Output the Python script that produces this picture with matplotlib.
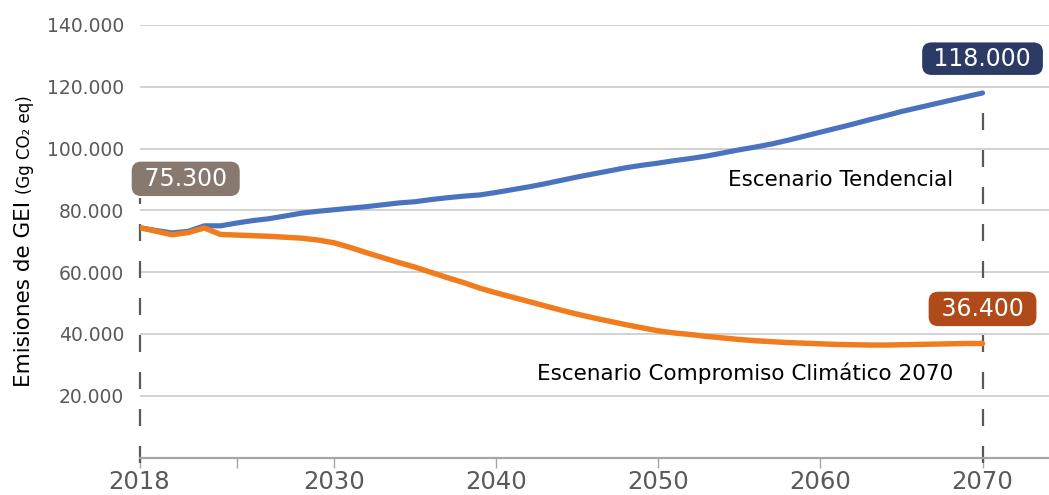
import matplotlib
matplotlib.use("Agg")
import matplotlib.pyplot as plt

years = list(range(2018, 2071))

tendencial = [
    74400, 73500, 72700, 73200, 75000, 75000, 75900, 76700, 77300, 78200,
    79100, 79700, 80200, 80700, 81200, 81800, 82400, 82800, 83500, 84100,
    84600, 85000, 85800, 86700, 87600, 88600, 89700, 90800, 91800, 92800,
    93800, 94600, 95300, 96100, 96800, 97600, 98600, 99600, 100500, 101500,
    102700, 104000, 105300, 106600, 107900, 109300, 110600, 112000, 113200,
    114400, 115600, 116800, 118000,
]

compromiso = [
    74400, 73300, 72100, 72800, 74300, 72200, 72000, 71800, 71600, 71300,
    71000, 70400, 69500, 68000, 66300, 64700, 63100, 61600, 59900, 58200,
    56600, 54800, 53300, 51900, 50500, 49100, 47700, 46400, 45200, 44100,
    43000, 42000, 41000, 40300, 39800, 39200, 38700, 38200, 37800, 37500,
    37200, 37000, 36800, 36600, 36500, 36400, 36400, 36500, 36600, 36700,
    36800, 36900, 36900,
]

yticks = [20000, 40000, 60000, 80000, 100000, 120000, 140000]
ytick_labels = ["20.000", "40.000", "60.000", "80.000", "100.000", "120.000", "140.000"]
xticks = [2018, 2030, 2040, 2050, 2060, 2070]
xtick_labels = ["2018", "2030", "2040", "2050", "2060", "2070"]

BLUE = "#4A73BF"
ORANGE = "#F07C1E"
GRAY_TXT = "#595959"

plt.rcParams["font.family"] = ["DejaVu Sans"]

fig = plt.figure(figsize=(10.49, 4.95), dpi=100)
ax = fig.add_axes([139.5 / 1049, 1 - 457.5 / 495, 1 - 139.5 / 1049, 432.5 / 495])
ax.set_xlim(2018, 2074.1)
ax.set_ylim(0, 140000)

for s in ["top", "right", "left"]:
    ax.spines[s].set_visible(False)
ax.spines["bottom"].set_color("#A6A6A6")
ax.spines["bottom"].set_linewidth(1.6)

ax.set_yticks(yticks)
ax.set_yticklabels(ytick_labels)
ax.tick_params(axis="y", length=0, pad=11, labelsize=13.5, labelcolor=GRAY_TXT)
ax.yaxis.grid(True, color="#C6C6C6", linewidth=1.1)
ax.set_axisbelow(True)

ax.set_xticks(xticks)
ax.set_xticklabels(xtick_labels)
ax.set_xticks([2024], minor=True)
ax.tick_params(axis="x", which="both", length=7, width=1, color="#A6A6A6",
               pad=2, labelsize=17.5, labelcolor=GRAY_TXT)

# dashed markers at start / end years
dash_kw = dict(color=GRAY_TXT, linewidth=1.6, clip_on=False, zorder=2)
l1, = ax.plot([2018, 2018], [-1800, 84000], **dash_kw)
l2, = ax.plot([2070, 2070], [-1800, 111600], **dash_kw)
for l in (l1, l2):
    l.set_dashes((17 * 0.72 / 1.6, 20 * 0.72 / 1.6))

ax.plot(years, tendencial, color=BLUE, linewidth=3.7, solid_capstyle="round",
        solid_joinstyle="round", zorder=3)
ax.plot(years, compromiso, color=ORANGE, linewidth=3.9, solid_capstyle="round",
        solid_joinstyle="round", zorder=4)

box_kw = dict(ha="center", va="center", fontsize=17, color="white", zorder=6)
ax.text(2020.85, 90200, " 75.300 ", bbox=dict(boxstyle="round,pad=0.22,rounding_size=0.4",
        fc="#877870", ec="none"), **box_kw)
ax.text(2070, 129100, " 118.000 ", bbox=dict(boxstyle="round,pad=0.18,rounding_size=0.4",
        fc="#2C3A66", ec="none"), **box_kw)
ax.text(2070, 48100, " 36.400 ", bbox=dict(boxstyle="round,pad=0.22,rounding_size=0.4",
        fc="#B04A18", ec="none"), **box_kw)

ax.text(2068.2, 89900, "Escenario Tendencial", ha="right", va="center",
        fontsize=15.5, color="black")
ax.text(2068.2, 27400, "Escenario Compromiso Climático 2070", ha="right", va="center",
        fontsize=15.5, color="black")

# y label in two sizes
t1 = fig.text(30 / 1049, 1 - 387 / 495, "Emisiones de GEI ", rotation=90,
              rotation_mode="anchor", ha="left", va="baseline", fontsize=15.5, color="black")
fig.canvas.draw()
ext = t1.get_window_extent(fig.canvas.get_renderer())
fig.text(30 / 1049, ext.y1 / fig.bbox.height, "(Gg CO₂ eq)", rotation=90,
         rotation_mode="anchor", ha="left", va="baseline", fontsize=12, color="black")

fig.savefig("out.png", dpi=100)
